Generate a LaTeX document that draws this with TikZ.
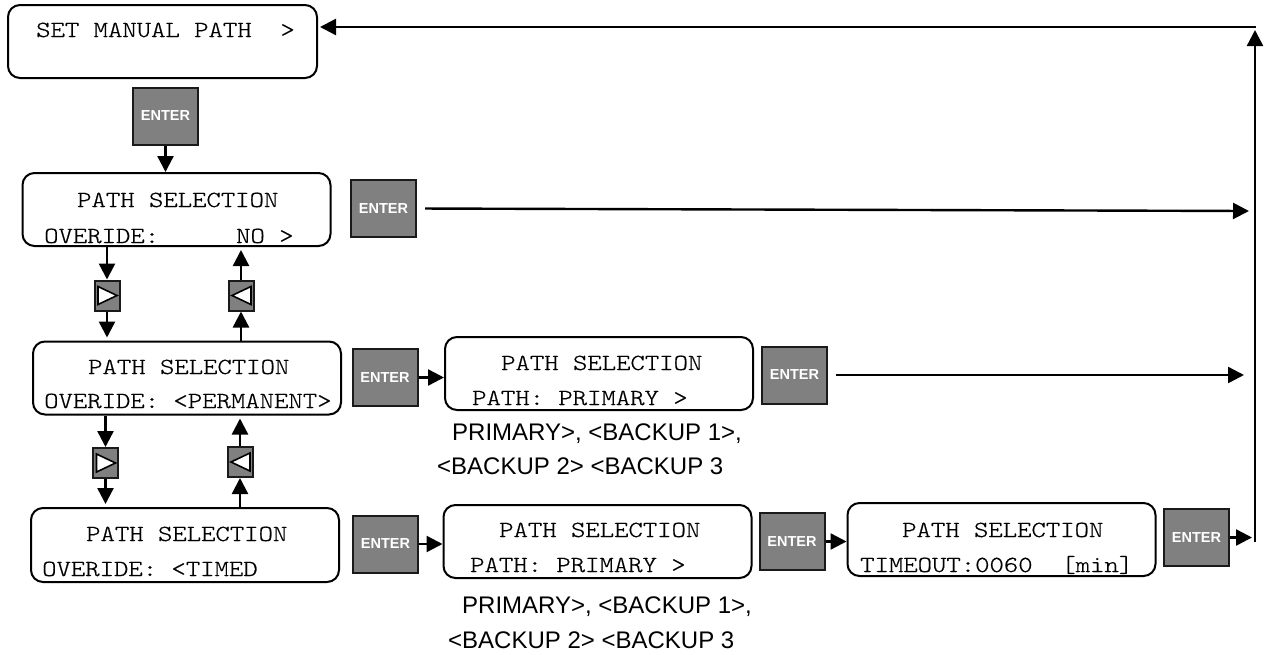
\documentclass[tikz,border=0pt]{standalone}
\usepackage{fontspec}
\setmainfont{Liberation Sans}
\newfontfamily\lcdfont[Extension=.otf, FakeStretch=1.19, FakeBold=0.6]{lmmonolt10-regular}
\usetikzlibrary{arrows.meta}
\definecolor{btngray}{HTML}{808080}
\definecolor{btnedge}{HTML}{1A1A1A}
\begin{document}
\begin{tikzpicture}[x=1pt,y=-1pt,
 lcd/.style={draw, line width=2pt, rounded corners=12pt, minimum width=308pt, minimum height=73pt, inner sep=0pt},
 lcdtext/.style={anchor=base west, inner sep=0pt, font=\lcdfont\fontsize{23}{28}\selectfont},
 enterbtn/.style={draw=btnedge, fill=btngray, line width=2pt, minimum width=65pt, minimum height=57pt, inner sep=0pt, text=white, font=\bfseries\fontsize{14.5}{16}\selectfont},
 arrowbtn/.style={draw=btnedge, fill=btngray, line width=2pt, minimum width=25pt, minimum height=30pt, inner sep=0pt},
 tri/.style={draw=black, fill=white, line width=1.6pt, line join=miter},
 note/.style={anchor=base west, inner sep=0pt, font=\fontsize{24}{28}\selectfont},
 flow/.style={line width=2.4pt, -{Triangle[length=16pt,width=16pt]}},
]
\useasboundingbox (0,0) rectangle (1264,654);

% display boxes
\node[lcd, minimum width=309pt] (b1) at (162.5,41.5) {};
\node[lcd] (b2) at (176.5,209.5) {};
\node[lcd] (b3) at (187,378) {};
\node[lcd, minimum height=74pt] (b4) at (185,545) {};
\node[lcd] (b5) at (599,373.5) {};
\node[lcd] (b6) at (597.5,541.5) {};
\node[lcd] (b7) at (1001.5,539.5) {};

% display texts
\node[lcdtext] (t1) at (36,37) {SET MANUAL PATH~~>};
\node[lcdtext] (t2a) at (77,207) {PATH SELECTION};
\node[lcdtext] (t2b) at (44,243) {OVERIDE:\hspace{77pt}NO >};
\node[lcdtext] (t3a) at (88,374) {PATH SELECTION};
\node[lcdtext] (t3b) at (44,408) {OVERIDE: <PERMANENT>};
\node[lcdtext] (t4a) at (86,541) {PATH SELECTION};
\node[lcdtext] (t4b) at (42,576) {OVERIDE: <TIMED};
\node[lcdtext] (t5a) at (501,370) {PATH SELECTION};
\node[lcdtext] (t5b) at (472,405) {PATH: PRIMARY >};
\node[lcdtext] (t6a) at (499,537) {PATH SELECTION};
\node[lcdtext] (t6b) at (470,572) {PATH: PRIMARY >};
\node[lcdtext] (t7a) at (902,537) {PATH SELECTION};
\node[lcdtext] (t7b) at (860,572) {TIMEOUT:0060~~[min]};

% notes
\node[note] (n5a) at (452,440) {PRIMARY>, <BACKUP 1>,};
\node[note] (n5b) at (437,474) {<BACKUP 2> <BACKUP 3};
\node[note] (n6a) at (462,613) {PRIMARY>, <BACKUP 1>,};
\node[note] (n6b) at (448,648) {<BACKUP 2> <BACKUP 3};

% enter buttons
\node[enterbtn] (e1) at (165.5,116) {ENTER};
\node[enterbtn] (e2) at (383.5,208.5) {ENTER};
\node[enterbtn] (e3) at (385,377.5) {ENTER};
\node[enterbtn] (e4) at (794.5,375) {ENTER};
\node[enterbtn] (e5) at (385.5,544) {ENTER};
\node[enterbtn] (e6) at (792,541.5) {ENTER};
\node[enterbtn] (e7) at (1196.5,537.5) {ENTER};

% arrow buttons
\node[arrowbtn] (s1) at (107,295.5) {};
\node[arrowbtn] (s2) at (241,295.5) {};
\node[arrowbtn] (s3) at (105.5,463) {};
\node[arrowbtn] (s4) at (240,462) {};
\draw[tri] (s1.center) ++(-9,-9) -- ++(0,18) -- ++(19,-9) -- cycle;
\draw[tri] (s2.center) ++(10,-9) -- ++(0,18) -- ++(-19,-9) -- cycle;
\draw[tri] (s3.center) ++(-9,-9) -- ++(0,18) -- ++(19,-9) -- cycle;
\draw[tri] (s4.center) ++(10,-9) -- ++(0,18) -- ++(-19,-9) -- cycle;

% free ends
\coordinate (c2) at (1249,211);
\coordinate (c4) at (1244,375);
\coordinate (cbot) at (1255,542);
\coordinate (cup) at (1255,30);
\coordinate (ctop) at (1256,27);

% connectors
\draw[flow] (e1.south) -- (e1.south |- b2.north);
\draw[flow, shorten <=8pt] (e2.east) -- (c2);
\draw[flow, shorten <=8pt] (e4.east) -- (c4);
\draw[flow] (e3.east) -- (e3.east -| b5.west);
\draw[flow] (e5.east) -- (e5.east -| b6.west);
\draw[flow] (e6.east) -- (e6.east -| b7.west);
\draw[flow, shorten >=3pt] (e7.east) -- (e7.east -| cbot);
\draw[flow] (cbot) -- (cup);
\draw[flow, shorten >=2pt] (ctop) -- (ctop -| b1.east);

\draw[flow] (s1.north |- b2.south) -- (s1.north);
\draw[flow, shorten >=3pt] (s1.south) -- (s1.south |- b3.north);
\draw[flow] (s2.south |- b3.north) -- (s2.south);
\draw[flow, shorten >=3pt] (s2.north) -- (s2.north |- b2.south);

\draw[flow] (s3.north |- b3.south) -- (s3.north);
\draw[flow, shorten >=3pt] (s3.south) -- (s3.south |- b4.north);
\draw[flow] (s4.south |- b4.north) -- (s4.south);
\draw[flow, shorten >=3pt] (s4.north) -- (s4.north |- b3.south);
\end{tikzpicture}
\end{document}
